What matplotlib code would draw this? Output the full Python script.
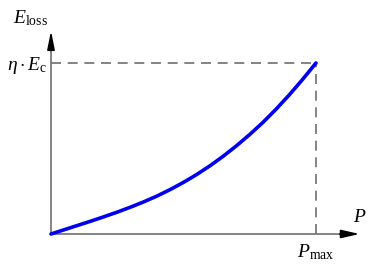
import numpy as np
import matplotlib
matplotlib.use("Agg")
import matplotlib.pyplot as plt

# energy loss curve (normalised P / Pmax and E / (eta*Ec))
p = [0.0, 0.05, 0.1, 0.15, 0.2, 0.25, 0.3, 0.35, 0.4, 0.45, 0.5,
     0.55, 0.6, 0.65, 0.7, 0.75, 0.8, 0.85, 0.9, 0.95, 1.0]
e_loss = [0.0, 0.025, 0.05, 0.075, 0.101, 0.128, 0.157, 0.188, 0.222, 0.26, 0.302,
          0.348, 0.399, 0.455, 0.516, 0.582, 0.653, 0.731, 0.815, 0.905, 1.0]
p_max = 1.0
e_max = 1.0

plt.rcParams['mathtext.fontset'] = 'custom'
plt.rcParams['mathtext.rm'] = 'Liberation Serif'
plt.rcParams['mathtext.it'] = 'Liberation Serif:italic'
plt.rcParams['font.family'] = 'Liberation Serif'

fig = plt.figure(figsize=(3.7, 2.64), dpi=100)
ax = fig.add_axes([0, 0, 1, 1])
# origin sits at pixel (51, 234), Pmax at 316 px, eta*Ec at 63 px
ax.set_xlim(-51 / 265, 319 / 265)
ax.set_ylim(-30 / 171, 234 / 171)
ax.axis('off')

grey = '#707070'
# axes with arrow heads
ax.plot([0, 1.10], [0, 0], color=grey, lw=1.2)
ax.plot([0, 0], [0, 1.12], color=grey, lw=1.2)
ax.annotate('', xy=(1.175, 0), xytext=(1.08, 0),
            arrowprops=dict(arrowstyle='-|>,head_length=1.1,head_width=0.25', color='black', lw=1.2))
ax.annotate('', xy=(0, 1.205), xytext=(0, 1.09),
            arrowprops=dict(arrowstyle='-|>,head_length=1.1,head_width=0.22', color='black', lw=1.2))

# dashed guides
ax.plot([0, p_max], [e_max, e_max], color=grey, lw=1.2, dashes=(6, 4))
ax.plot([p_max, p_max], [0, e_max], color=grey, lw=1.2, dashes=(6, 4))

# curve
ax.plot(p, e_loss, color='#0000ee', lw=2.6, solid_capstyle='round', solid_joinstyle='round')

ax.text(-0.145, 1.235, r'$E_{\mathrm{loss}}$', fontsize=14, ha='left', va='baseline')
ax.text(-0.015, e_max - 0.04, r'$\eta\cdot E_{\mathrm{c}}$', fontsize=14, ha='right', va='baseline')
ax.text(1.14, 0.07, r'$P$', fontsize=14, ha='left', va='baseline')
ax.text(p_max, -0.135, r'$P_{\mathrm{max}}$', fontsize=14, ha='center', va='baseline')

fig.savefig('out.png', dpi=100)
